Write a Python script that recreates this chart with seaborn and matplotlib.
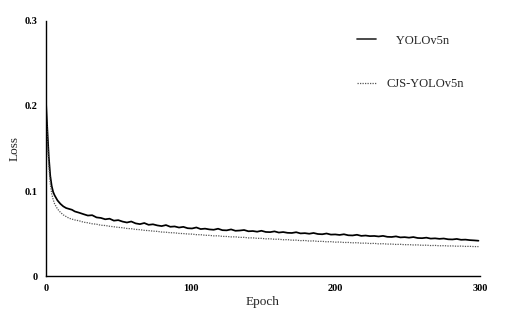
import matplotlib
matplotlib.use("Agg")
import matplotlib.pyplot as plt
import seaborn as sns
import pandas as pd

epochs = [0, 1, 2, 3, 4, 5, 6, 7, 8, 10, 12, 14, 16, 18, 20] + list(range(23, 301, 3))

yolov5n = [0.207, 0.172, 0.140, 0.118, 0.106, 0.099, 0.095, 0.092, 0.089, 0.085,
           0.082, 0.080, 0.079, 0.078, 0.076,
           0.0745, 0.0728, 0.0712, 0.0716, 0.0690, 0.0684, 0.0668, 0.0675, 0.0652, 0.0658,
           0.0641, 0.0630, 0.0642, 0.0620, 0.0611, 0.0624, 0.0603, 0.0609, 0.0596, 0.0588,
           0.0600, 0.0580, 0.0584, 0.0571, 0.0579, 0.0563, 0.0560, 0.0572, 0.0553, 0.0558,
           0.0549, 0.0545, 0.0557, 0.0540, 0.0538, 0.0549, 0.0533, 0.0536, 0.0542, 0.0527,
           0.0530, 0.0522, 0.0533, 0.0519, 0.0517, 0.0526, 0.0512, 0.0518, 0.0509, 0.0507,
           0.0516, 0.0502, 0.0505, 0.0498, 0.0507, 0.0495, 0.0492, 0.0501, 0.0488, 0.0490,
           0.0484, 0.0492, 0.0480, 0.0478, 0.0486, 0.0473, 0.0477, 0.0470, 0.0472, 0.0466,
           0.0473, 0.0462, 0.0460, 0.0467, 0.0455, 0.0458, 0.0452, 0.0459, 0.0448, 0.0446,
           0.0452, 0.0441, 0.0444, 0.0438, 0.0442, 0.0433, 0.0431, 0.0437, 0.0427, 0.0429,
           0.0423, 0.0420, 0.0416]

cjs_yolov5n = [0.200, 0.162, 0.130, 0.109, 0.097, 0.090, 0.085, 0.082, 0.079, 0.075,
               0.072, 0.070, 0.068, 0.067, 0.066,
               0.0650, 0.0634, 0.0627, 0.0615, 0.0610, 0.0598, 0.0595, 0.0586, 0.0580, 0.0573,
               0.0569, 0.0560, 0.0557, 0.0549, 0.0546, 0.0538, 0.0535, 0.0529, 0.0526, 0.0518,
               0.0516, 0.0510, 0.0509, 0.0502, 0.0500, 0.0495, 0.0494, 0.0487, 0.0487, 0.0480,
               0.0479, 0.0473, 0.0474, 0.0467, 0.0466, 0.0461, 0.0462, 0.0455, 0.0456, 0.0449,
               0.0450, 0.0444, 0.0444, 0.0438, 0.0439, 0.0433, 0.0434, 0.0427, 0.0429, 0.0422,
               0.0423, 0.0417, 0.0419, 0.0412, 0.0414, 0.0408, 0.0409, 0.0403, 0.0405, 0.0399,
               0.0401, 0.0395, 0.0396, 0.0391, 0.0393, 0.0387, 0.0388, 0.0383, 0.0385, 0.0379,
               0.0381, 0.0376, 0.0377, 0.0372, 0.0374, 0.0369, 0.0370, 0.0366, 0.0367, 0.0362,
               0.0364, 0.0359, 0.0361, 0.0356, 0.0358, 0.0354, 0.0355, 0.0351, 0.0353, 0.0349,
               0.0350, 0.0347, 0.0347]

series_names = ["   YOLOv5n", "CJS-YOLOv5n"]
x_ticks = [0, 100, 200, 300]
y_ticks = [0, 0.1, 0.2, 0.3]
y_tick_labels = ["0", "0.1", "0.2", "0.3"]

sns.set_theme(style="white")
plt.rcParams["font.family"] = ["Liberation Serif", "DejaVu Serif"]

df1 = pd.DataFrame({"Epoch": epochs, "Loss": yolov5n})
df2 = pd.DataFrame({"Epoch": epochs, "Loss": cjs_yolov5n})

fig = plt.figure(figsize=(5.1, 3.17), dpi=100)
ax = fig.add_axes([0.090, 0.129, 0.851, 0.805])

sns.lineplot(data=df1, x="Epoch", y="Loss", ax=ax, color="black", linewidth=1.25,
             label=series_names[0])
sns.lineplot(data=df2, x="Epoch", y="Loss", ax=ax, color="#555555", linewidth=0.9,
             linestyle=(0, (1, 1)), label=series_names[1])

ax.set_xlim(0, 300)
ax.set_ylim(0, 0.3)
ax.set_xticks(x_ticks)
ax.set_yticks(y_ticks)
ax.set_yticklabels(y_tick_labels)
ax.tick_params(axis="both", length=0, labelsize=7.5, pad=6, colors="black")
for lab in ax.get_xticklabels() + ax.get_yticklabels():
    lab.set_fontweight("bold")

for s in ["top", "right"]:
    ax.spines[s].set_visible(False)
for s in ["left", "bottom"]:
    ax.spines[s].set_color("black")
    ax.spines[s].set_linewidth(1.0)

ax.set_xlabel("Epoch", fontsize=9.5, labelpad=2)
ax.set_ylabel("Loss", fontsize=9.5, labelpad=3)

leg = ax.legend(loc="upper left", bbox_to_anchor=(0.69, 0.99), frameon=False,
                fontsize=9, handlelength=1.55, handletextpad=0.85, labelspacing=2.5)
leg.get_lines()[0].set_color("#333333")

fig.savefig("out.png", dpi=100)
